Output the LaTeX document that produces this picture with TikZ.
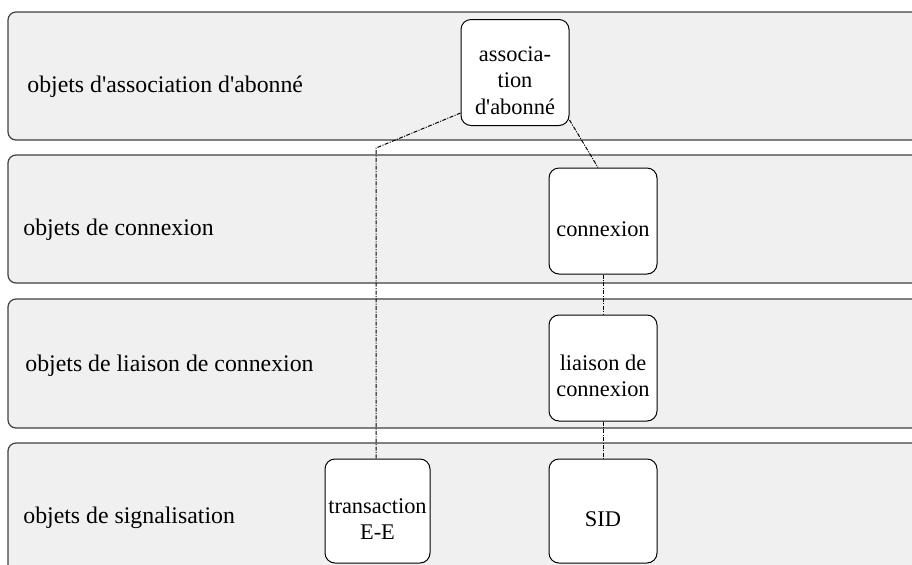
\documentclass[tikz,border=0pt]{standalone}
\usepackage{fontspec}
\setmainfont{Liberation Serif}
\usetikzlibrary{calc}
\newcommand{\ap}{\textquotesingle}
\begin{document}
\begin{tikzpicture}[x=0.5pt,y=-0.5pt,
    band/.style={draw=black!75,fill=black!6,line width=0.6pt,rounded corners=4pt},
    obj/.style={draw,fill=white,rounded corners=5pt,inner sep=0pt,
      minimum width=54pt,minimum height=53pt,line width=0.5pt},
    txt/.style={align=center,yshift=-4pt,inner sep=0pt,font=\fontsize{11.2}{13.3}\selectfont},
    lbl/.style={anchor=base west,inner sep=0pt},
    link/.style={line width=0.5pt,dash pattern=on 2pt off 0.7pt on 0.5pt off 0.7pt}]
  \clip (0,0) rectangle (912,564);
  \fontsize{11.9}{13.2}\selectfont
  % layers
  \draw[band] (940,12) -- (8,12) -- (8,140) -- (940,140);
  \draw[band] (940,155) -- (8,155) -- (8,283) -- (940,283);
  \draw[band] (940,299) -- (8,299) -- (8,428) -- (940,428);
  \draw[band] (940,443) -- (8,443) -- (8,600) -- (940,600);
  \node[lbl] (l1) at (27,92) {objets d\ap association d\ap abonné};
  \node[lbl] (l2) at (23,235) {objets de connexion};
  \node[lbl] (l3) at (25,371) {objets de liaison de connexion};
  \node[lbl] (l4) at (23,523) {objets de signalisation};
  % objects
  \node[obj,label={[txt]center:associa-\\tion\\d\ap abonné}] (assoc) at (515,72.5) {};
  \node[obj,label={[txt]center:connexion}] (conn) at (603,221) {};
  \node[obj,label={[txt]center:liaison de\\connexion}] (liais) at (603,368) {};
  \node[obj,minimum width=52.5pt,minimum height=52pt,label={[txt]center:transaction\\E-E}] (trans) at (377.5,511) {};
  \node[obj,minimum height=52pt,label={[txt]center:SID}] (sid) at (603,511) {};
  % links
  \coordinate (bend) at (376,148);
  \draw[link] ($(assoc.south west)+(0,-13)$) -- (bend) -- (bend |- trans.north);
  \draw[link] ($(assoc.south east)+(0,-6)$) -- ($(conn.north)+(-5,0)$);
  \draw[link] (conn.south) -- (liais.north);
  \draw[link] (liais.south) -- (sid.north);
\end{tikzpicture}
\end{document}
